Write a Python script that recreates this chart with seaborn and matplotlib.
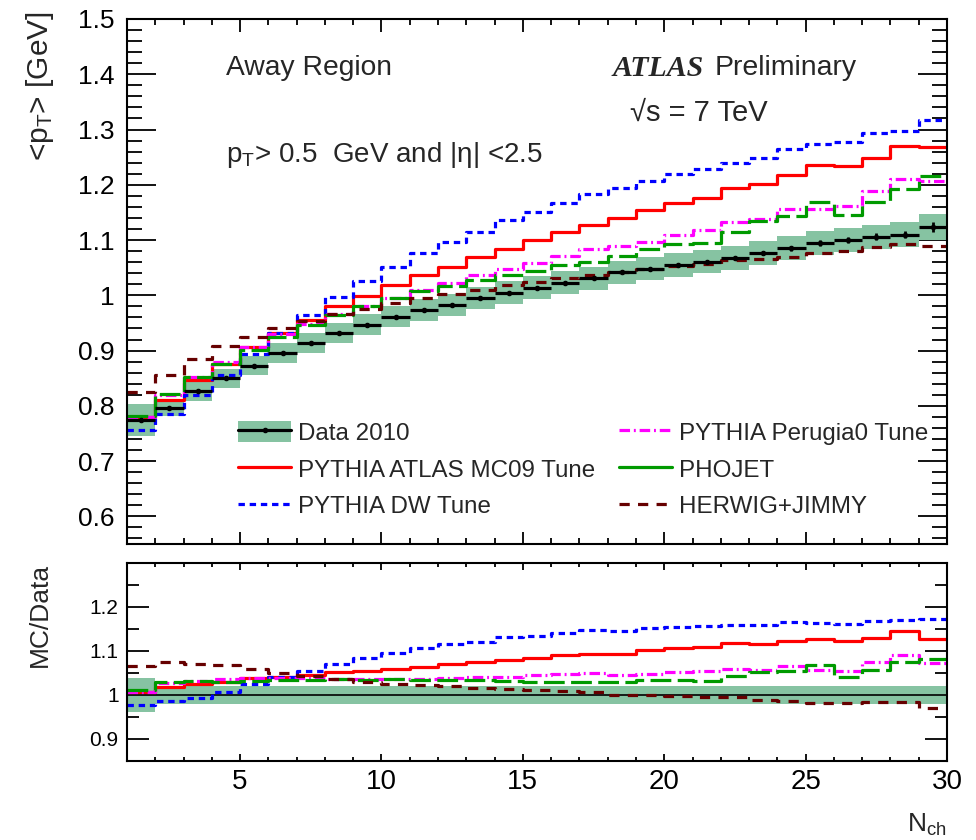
import numpy as np
import pandas as pd
import matplotlib
matplotlib.use("Agg")
import matplotlib.pyplot as plt
from matplotlib.lines import Line2D
from matplotlib.patches import Patch
from matplotlib.ticker import MultipleLocator, FixedLocator, FuncFormatter
import seaborn as sns

# ---- data: mean pT vs charged multiplicity, away region ----
nch_edges = list(range(1, 31))

data_pt = [0.774, 0.797, 0.826, 0.850, 0.873, 0.895, 0.914, 0.932, 0.947, 0.961,
           0.973, 0.983, 0.995, 1.005, 1.014, 1.023, 1.031, 1.042, 1.048, 1.055,
           1.061, 1.068, 1.077, 1.085, 1.095, 1.100, 1.106, 1.110, 1.124]
data_stat = [0.001, 0.001, 0.001, 0.001, 0.001, 0.001, 0.001, 0.001, 0.001, 0.001,
             0.001, 0.001, 0.001, 0.002, 0.002, 0.002, 0.002, 0.002, 0.003, 0.003,
             0.003, 0.003, 0.004, 0.004, 0.005, 0.005, 0.006, 0.006, 0.009]
data_sys_rel = [0.038, 0.020, 0.020, 0.020, 0.020, 0.020, 0.020, 0.020, 0.020, 0.020,
                0.020, 0.020, 0.020, 0.020, 0.020, 0.020, 0.020, 0.020, 0.020, 0.020,
                0.020, 0.020, 0.020, 0.020, 0.020, 0.020, 0.020, 0.021, 0.021]

mc09_pt = [0.780, 0.811, 0.847, 0.875, 0.906, 0.932, 0.955, 0.980, 0.998, 1.018,
           1.036, 1.052, 1.069, 1.084, 1.100, 1.115, 1.128, 1.140, 1.155, 1.167,
           1.177, 1.195, 1.202, 1.218, 1.235, 1.234, 1.249, 1.271, 1.268]
dw_pt = [0.757, 0.786, 0.820, 0.856, 0.894, 0.931, 0.964, 0.997, 1.026, 1.052,
         1.076, 1.097, 1.115, 1.137, 1.151, 1.167, 1.183, 1.194, 1.207, 1.219,
         1.228, 1.239, 1.249, 1.265, 1.273, 1.277, 1.293, 1.298, 1.317]
perugia0_pt = [0.780, 0.819, 0.852, 0.880, 0.906, 0.930, 0.949, 0.966, 0.981, 0.996,
               1.009, 1.022, 1.036, 1.047, 1.059, 1.071, 1.083, 1.089, 1.097, 1.110,
               1.118, 1.132, 1.139, 1.157, 1.156, 1.161, 1.188, 1.210, 1.206]
phojet_pt = [0.782, 0.821, 0.852, 0.876, 0.901, 0.925, 0.946, 0.965, 0.980, 0.995,
             1.007, 1.017, 1.028, 1.037, 1.044, 1.054, 1.061, 1.072, 1.083, 1.092,
             1.094, 1.115, 1.134, 1.144, 1.169, 1.145, 1.168, 1.192, 1.216]
herwig_pt = [0.825, 0.856, 0.885, 0.908, 0.925, 0.940, 0.953, 0.966, 0.976, 0.986,
             0.995, 1.003, 1.010, 1.018, 1.025, 1.032, 1.037, 1.043, 1.048, 1.053,
             1.056, 1.064, 1.065, 1.070, 1.076, 1.081, 1.088, 1.093, 1.090]

model_names = ["PYTHIA ATLAS MC09 Tune", "PYTHIA DW Tune", "PYTHIA Perugia0 Tune",
               "PHOJET", "HERWIG+JIMMY"]
model_values = [mc09_pt, dw_pt, perugia0_pt, phojet_pt, herwig_pt]
model_colors = {"PYTHIA ATLAS MC09 Tune": "#ff0000",
                "PYTHIA DW Tune": "#0000ff",
                "PYTHIA Perugia0 Tune": "#ff00ff",
                "PHOJET": "#009a00",
                "HERWIG+JIMMY": "#660000"}
model_dashes = {"PYTHIA ATLAS MC09 Tune": "",
                "PYTHIA DW Tune": (2.0, 1.5),
                "PYTHIA Perugia0 Tune": (3.3, 1.2, 0.6, 1.2),
                "PHOJET": (6.5, 2.0),
                "HERWIG+JIMMY": (3.2, 2.6)}
# legend samples (PHOJET's long dashes show as a solid stroke in the key)
legend_dashes = dict(model_dashes, PHOJET="")
band_color = "#86c3a2"

# ---- style ----
sns.set_theme(style="ticks")
plt.rcParams["font.family"] = ["Liberation Sans", "DejaVu Sans"]
plt.rcParams["mathtext.fontset"] = "custom"
plt.rcParams["mathtext.rm"] = "Liberation Sans"
plt.rcParams["mathtext.it"] = "Liberation Sans:italic"
plt.rcParams["axes.linewidth"] = 1.5
plt.rcParams["axes.edgecolor"] = "black"

W, H = 976, 840
fig = plt.figure(figsize=(W / 100, H / 100), dpi=100)


def fx(x):
    return x / W


def fy(y):
    return 1 - y / H


ax1 = fig.add_axes([fx(127), fy(544), fx(947) - fx(127), fy(19) - fy(544)])
ax2 = fig.add_axes([fx(127), fy(761), fx(947) - fx(127), fy(563) - fy(761)])

edges = np.array(nch_edges, dtype=float)
centers = 0.5 * (edges[:-1] + edges[1:])
data = np.array(data_pt)
sys_rel = np.array(data_sys_rel)


def stepped(vals):
    v = np.asarray(vals, dtype=float)
    return np.append(v, v[-1])


frames = []
for name, vals in zip(model_names, model_values):
    v = np.asarray(vals, dtype=float)
    frames.append(pd.DataFrame({"Nch": edges, "pt": stepped(v),
                                "ratio": stepped(v / data), "model": name}))
mc = pd.concat(frames, ignore_index=True)

LW = 2.3

# ---- upper panel ----
ax1.fill_between(edges, stepped(data * (1 - sys_rel)), stepped(data * (1 + sys_rel)),
                 step="post", color=band_color, lw=0, zorder=1)
sns.lineplot(data=mc, x="Nch", y="pt", hue="model", style="model",
             hue_order=model_names, style_order=model_names,
             palette=model_colors, dashes=model_dashes, drawstyle="steps-post",
             linewidth=LW, estimator=None, legend=False, ax=ax1, zorder=2)
ax1.hlines(data, edges[:-1], edges[1:], colors="black", lw=LW, zorder=4)
ax1.errorbar(centers, data, yerr=data_stat, fmt="o", ms=3, color="black",
             elinewidth=2, capsize=0, zorder=5)

ax1.set_xlim(1, 30)
ax1.set_ylim(0.55, 1.5)
ax1.set_xlabel("")
ax1.set_ylabel("")
ax1.xaxis.set_major_locator(MultipleLocator(5))
ax1.xaxis.set_minor_locator(MultipleLocator(1))
ax1.yaxis.set_major_locator(MultipleLocator(0.1))
ax1.yaxis.set_minor_locator(MultipleLocator(0.02))
ax1.yaxis.set_major_formatter(FuncFormatter(lambda v, p: f"{v:.10g}" if v < 0.95 or v > 1.05 else "1"))
ax1.tick_params(axis="both", which="both", direction="in", top=True, right=True,
                colors="black", width=1.3)
ax1.tick_params(axis="x", which="major", length=9, labelbottom=False)
ax1.tick_params(axis="x", which="minor", length=4.5)
ax1.tick_params(axis="y", which="major", length=21, labelsize=19, pad=9)
ax1.tick_params(axis="y", which="minor", length=11)

# ---- ratio panel ----
ax2.fill_between(edges, stepped(1 - sys_rel), stepped(1 + sys_rel),
                 step="post", color=band_color, lw=0, zorder=1)
ax2.axhline(1.0, color="black", lw=1.2, zorder=1.5)
sns.lineplot(data=mc, x="Nch", y="ratio", hue="model", style="model",
             hue_order=model_names, style_order=model_names,
             palette=model_colors, dashes=model_dashes, drawstyle="steps-post",
             linewidth=LW, estimator=None, legend=False, ax=ax2, zorder=2)
ax2.set_xlim(1, 30)
ax2.set_ylim(0.85, 1.3)
ax2.set_xlabel("")
ax2.set_ylabel("")
ax2.xaxis.set_major_locator(MultipleLocator(5))
ax2.xaxis.set_minor_locator(MultipleLocator(1))
ax2.yaxis.set_major_locator(FixedLocator([0.9, 1.0, 1.1, 1.2]))
ax2.yaxis.set_minor_locator(FixedLocator([0.95, 1.05, 1.15, 1.25]))
ax2.yaxis.set_major_formatter(FuncFormatter(lambda v, p: "1" if abs(v - 1) < 1e-6 else f"{v:.1f}"))
ax2.tick_params(axis="both", which="both", direction="in", top=True, right=True,
                colors="black", width=1.3)
ax2.tick_params(axis="x", which="major", length=5, labelsize=20, pad=6)
ax2.tick_params(axis="x", which="minor", length=3)
ax2.tick_params(axis="y", which="major", length=16, labelsize=15, pad=6)
ax2.tick_params(axis="y", which="minor", length=8.5)

# ---- legend ----
handles = [
    (Patch(facecolor=band_color, edgecolor="none"),
     Line2D([], [], color="black", lw=LW, marker="o", ms=3)),
]
for name in model_names:
    d = legend_dashes[name]
    ls = "-" if d == "" else (0, d)
    handles.append(Line2D([], [], color=model_colors[name], lw=LW, linestyle=ls))
labels = ["Data 2010"] + model_names
ax1.legend(handles, labels, ncol=2, loc="upper left",
           bbox_to_anchor=(fx(238), fy(421)), bbox_transform=fig.transFigure,
           frameon=False, fontsize=17.4, borderpad=0, borderaxespad=0,
           handlelength=2.2, handleheight=0.97, handletextpad=0.28,
           labelspacing=0.53, columnspacing=1.0)

# ---- annotations ----
fig.text(fx(226), fy(68), "Away Region", fontsize=20.3, va="center", ha="left")
fig.text(fx(613), fy(68), "ATLAS", fontsize=21.5, va="center", ha="left",
         family=["Liberation Serif", "DejaVu Serif"], weight="bold", style="italic")
fig.text(fx(715), fy(68), "Preliminary", fontsize=20.5, va="center", ha="left")
fig.text(fx(630), fy(113), "\u221as = 7 TeV", fontsize=21, va="center", ha="left")
fig.text(fx(226), fy(155), r"p$_\mathregular{T}$> 0.5  GeV and |" + "\u03b7" + "| <2.5",
         fontsize=20, va="center", ha="left")

fig.text(fx(40), fy(11), r"<p$_\mathregular{T}$> [GeV]", fontsize=21.5, rotation=90,
         va="top", ha="center")
fig.text(fx(40), fy(563), "MC/Data", fontsize=19, rotation=90, va="top", ha="center")
fig.text(fx(947), fy(832), r"N$_\mathregular{ch}$", fontsize=19, va="baseline", ha="right")

fig.savefig("out.png", dpi=100, facecolor="white")
